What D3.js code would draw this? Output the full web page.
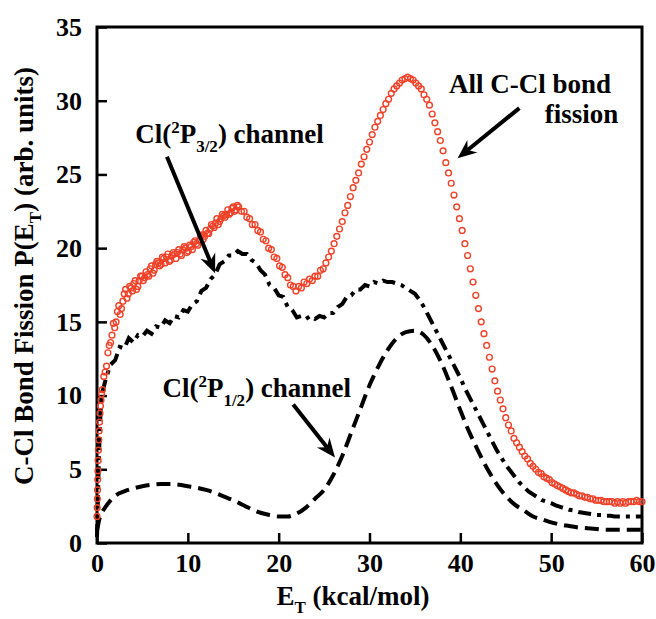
<!DOCTYPE html>
<html>
<head>
<meta charset="utf-8">
<script src="https://cdn.jsdelivr.net/npm/d3@7"></script>
<style>
  html, body { margin: 0; padding: 0; background: #fff; }
  svg text { font-family: "Liberation Serif", Tinos, "Times New Roman", Times, serif !important; font-weight: 700; }
</style>
</head>
<body>
<div id="graph"></div>
<script>
// x ticks and y ticks
const xTicks = [0, 10, 20, 30, 40, 50, 60];
const yTicks = [0, 5, 10, 15, 20, 25, 30, 35];

// All C-Cl bond fission (red open circles): steep start, then 0.3 kcal/mol grid from 0.6
const allLowE = [0, 0.02, 0.04, 0.06, 0.08, 0.1, 0.13, 0.16, 0.2, 0.24, 0.28, 0.33, 0.38, 0.44, 0.5];
const allLowV = [1.8, 2.4, 3.0, 3.6, 4.3, 4.9, 5.6, 6.3, 7.0, 7.6, 8.2, 8.8, 9.3, 9.7, 10.1];
const allStart = 0.6, allStep = 0.3;
const allV = [
  10.4, 11.6, 12.9, 13.6, 14.9, 15.0, 16.1, 15.9, 16.9, 16.6,
  17.4, 17.1, 17.8, 17.4, 18.1, 17.8, 18.4, 18.1, 18.8, 18.5,
  19.1, 18.8, 19.4, 19.0, 19.6, 19.2, 19.7, 19.3, 19.9, 19.5,
  20.1, 19.7, 20.2, 19.9, 20.5, 20.2, 20.8, 20.6, 21.2, 21.0,
  21.6, 21.4, 22.0, 21.8, 22.3, 22.1, 22.6, 22.4, 22.8, 22.6,
  22.8, 22.5, 22.5, 22.1, 22.0, 21.6, 21.6, 21.2, 21.1, 20.6,
  20.5, 20.0, 19.9, 19.4, 19.3, 18.8, 18.7, 18.2, 18.0, 17.5,
  17.4, 17.1, 17.4, 17.3, 17.7, 17.6, 17.9, 17.8, 18.1, 18.1,
  18.5, 18.6, 19.0, 19.4, 19.8, 20.3, 20.8, 21.3, 21.8, 22.4,
  22.9, 23.5, 24.1, 24.6, 25.1, 25.7, 26.2, 26.7, 27.2, 27.7,
  28.2, 28.6, 29.0, 29.4, 29.8, 30.1, 30.5, 30.8, 31.0, 31.2,
  31.4, 31.5, 31.6, 31.5, 31.4, 31.2, 31.0, 30.8, 30.4, 30.1,
  29.7, 29.1, 28.5, 27.9, 27.3, 26.6, 25.8, 25.1, 24.4, 23.6,
  22.8, 22.0, 21.2, 20.3, 19.5, 18.6, 17.7, 16.8, 15.9, 15.0,
  14.2, 13.4, 12.6, 11.8, 11.0, 10.3, 9.7, 9.1, 8.5, 8.0,
  7.6, 7.1, 6.8, 6.5, 6.2, 5.9, 5.7, 5.4, 5.2, 5.0,
  4.8, 4.7, 4.5, 4.4, 4.3, 4.1, 4.0, 3.9, 3.8, 3.7,
  3.6, 3.5, 3.4, 3.4, 3.3, 3.2, 3.2, 3.1, 3.1, 3.0,
  3.0, 2.9, 2.9, 2.9, 2.8, 2.8, 2.8, 2.8, 2.7, 2.8,
  2.7, 2.8, 2.7, 2.8, 2.8, 2.8, 2.9, 2.8, 2.8
];
// extra noisy red points in the dense low-energy band (E, value)
const allBandE = [0.75, 1.05, 1.35, 1.65, 1.95, 2.25, 2.55, 2.85, 3.15, 3.45, 3.75, 4.05, 4.35, 4.65, 4.95, 5.25, 5.55, 5.85, 6.15, 6.45, 6.75, 7.05, 7.35, 7.65, 7.95, 8.25, 8.55, 8.85, 9.15, 9.45, 9.75, 10.05, 10.35, 10.65, 10.95, 11.25, 11.55, 11.85, 12.15, 12.45, 12.75, 13.05, 13.35, 13.65, 13.95, 14.25, 14.55, 14.85, 15.15, 15.45];
const allBandV = [11.3, 12.0, 13.4, 14.1, 14.6, 15.7, 15.5, 16.4, 17.2, 16.9, 17.3, 17.6, 17.2, 17.8, 18.1, 18.0, 18.2, 18.6, 18.3, 18.9, 19.0, 18.9, 19.3, 19.4, 19.1, 19.5, 19.6, 19.7, 19.6, 19.9, 20.0, 19.8, 20.1, 20.4, 20.3, 20.5, 20.9, 20.8, 21.0, 21.3, 21.5, 21.7, 21.6, 22.0, 22.2, 22.3, 22.3, 22.7, 22.5, 22.9];

// Cl(2P3/2) channel (dash-dot): steep start, then 0.5 kcal/mol grid from 0.5
const p32LowE = [0, 0.1, 0.2, 0.3, 0.4];
const p32LowV = [0.4, 3.0, 5.5, 7.5, 9.0];
const p32Start = 0.5, p32Step = 0.5;
const p32V = [
  10.0, 11.2, 12.1, 12.4, 13.3, 13.2, 13.9, 13.6, 14.1, 14.0,
  14.4, 14.2, 14.7, 14.6, 15.1, 14.9, 15.4, 15.3, 15.8, 15.7,
  16.2, 16.4, 17.1, 17.3, 17.9, 18.2, 18.9, 19.1, 19.5, 19.5,
  19.8, 19.6, 19.6, 19.2, 19.0, 18.5, 18.2, 17.5, 17.3, 16.8,
  16.7, 16.0, 15.8, 15.3, 15.4, 15.2, 15.4, 15.2, 15.4, 15.3,
  15.6, 15.6, 16.0, 16.2, 16.7, 16.8, 17.2, 17.2, 17.5, 17.4,
  17.7, 17.6, 17.8, 17.7, 17.7, 17.6, 17.5, 17.3, 17.1, 16.9,
  16.5, 16.0, 15.4, 14.8, 14.2, 13.6, 13.0, 12.4, 11.8, 11.2,
  10.5, 9.9, 9.3, 8.7, 8.1, 7.5, 6.9, 6.3, 5.8, 5.3,
  4.9, 4.5, 4.1, 3.8, 3.5, 3.3, 3.1, 2.9, 2.8, 2.7,
  2.55, 2.45, 2.35, 2.25, 2.2, 2.1, 2.05, 2.0, 1.95, 1.9,
  1.9, 1.85, 1.85, 1.8, 1.8, 1.8, 1.8, 1.8, 1.8, 1.8
];

// Cl(2P1/2) channel (dashed): steep start, then 1 kcal/mol grid from 1
const p12LowE = [0, 0.25, 0.5];
const p12LowV = [0.8, 1.6, 2.0];
const p12Start = 1, p12Step = 1;
const p12V = [
  2.5, 3.2, 3.5, 3.7, 3.85, 3.95, 4.0, 4.0, 3.95, 3.85,
  3.75, 3.6, 3.4, 3.15, 2.9, 2.6, 2.3, 2.05, 1.9, 1.8,
  1.8, 2.0, 2.4, 3.0, 3.6, 4.6, 5.9, 7.5, 9.1, 10.7,
  12.0, 13.1, 13.9, 14.3, 14.4, 14.1, 13.3, 12.1, 10.6, 9.0,
  7.5, 6.2, 5.0, 4.0, 3.2, 2.6, 2.2, 1.8, 1.6, 1.4,
  1.25, 1.15, 1.05, 1.0, 0.95, 0.9, 0.9, 0.9, 0.9, 0.9
];

// build [E, value] points from a low-energy part and a regular grid
function series(lowE, lowV, start, step, vals) {
  const pts = lowE.map((e, i) => [e, lowV[i]]);
  vals.forEach((v, i) => pts.push([+(start + i * step).toFixed(2), v]));
  return pts;
}
const allData = series(allLowE, allLowV, allStart, allStep, allV)
    .concat(allBandE.map((e, i) => [e, allBandV[i]]));
const p32Data = series(p32LowE, p32LowV, p32Start, p32Step, p32V);
const p12Data = series(p12LowE, p12LowV, p12Start, p12Step, p12V);

const FONT = "'Liberation Serif', Tinos, 'Times New Roman', Times, serif";

// Declare the chart dimensions and margins.
const width = 656;
const height = 619;
const marginTop = 27;
const marginRight = 14;
const marginBottom = 76;
const marginLeft = 97;

const x = d3.scaleLinear().domain([0, 60]).range([marginLeft, width - marginRight]);
const y = d3.scaleLinear().domain([0, 35]).range([height - marginBottom, marginTop]);

const svg = d3.select("#graph").append("svg")
    .attr("width", width)
    .attr("height", height)
    .attr("viewBox", [0, 0, width, height])
    .attr("font-family", FONT)
    .attr("font-weight", "bold");

// axes, ticks pointing inwards
svg.append("g")
    .attr("transform", `translate(0,${height - marginBottom})`)
    .call(d3.axisBottom(x).tickValues(xTicks).tickSize(-10).tickPadding(11))
    .attr("font-family", FONT)
    .call(g => g.select(".domain").remove())
    .call(g => g.selectAll(".tick line").attr("stroke-width", 2.5))
    .call(g => g.selectAll(".tick text").attr("font-size", 26));

svg.append("g")
    .attr("transform", `translate(${marginLeft},0)`)
    .call(d3.axisLeft(y).tickValues(yTicks).tickSize(-10).tickPadding(15))
    .attr("font-family", FONT)
    .call(g => g.select(".domain").remove())
    .call(g => g.selectAll(".tick line").attr("stroke-width", 2.5))
    .call(g => g.selectAll(".tick text").attr("font-size", 26));

// frame
svg.append("rect")
    .attr("x", marginLeft)
    .attr("y", marginTop)
    .attr("width", width - marginLeft - marginRight)
    .attr("height", height - marginTop - marginBottom)
    .attr("fill", "none")
    .attr("stroke", "#000")
    .attr("stroke-width", 3);

const line = d3.line().x(d => x(d[0])).y(d => y(d[1]));

svg.append("path")
    .datum(p12Data)
    .attr("fill", "none")
    .attr("stroke", "#000")
    .attr("stroke-width", 4)
    .attr("stroke-dasharray", "14,7")
    .attr("d", line.curve(d3.curveMonotoneX));

svg.append("path")
    .datum(p32Data)
    .attr("fill", "none")
    .attr("stroke", "#000")
    .attr("stroke-width", 4)
    .attr("stroke-dasharray", "13,6,4,6")
    .attr("d", line.curve(d3.curveLinear));

svg.append("g")
    .attr("fill", "none")
    .attr("stroke", "#ee4128")
    .attr("stroke-width", 1.4)
    .selectAll("circle")
    .data(allData)
    .join("circle")
    .attr("cx", d => x(d[0]))
    .attr("cy", d => y(d[1]))
    .attr("r", 2.9);

// axis titles
const xTitle = svg.append("text")
    .attr("x", 353)
    .attr("y", 605)
    .attr("text-anchor", "middle")
    .attr("font-size", 27);
xTitle.append("tspan").text("E");
xTitle.append("tspan").attr("font-size", 17).attr("dy", 8).text("T");
xTitle.append("tspan").attr("dy", -8).text(" (kcal/mol)");

const yTitle = svg.append("text")
    .attr("transform", `translate(33,276) rotate(-90)`)
    .attr("text-anchor", "middle")
    .attr("font-size", 27);
yTitle.append("tspan").text("C-Cl Bond Fission P(E");
yTitle.append("tspan").attr("font-size", 17).attr("dy", 8).text("T");
yTitle.append("tspan").attr("dy", -8).text(") (arb. units)");

// annotations (positions in data units)
function channelLabel(e, v, sub) {
  const t = svg.append("text").attr("x", x(e)).attr("y", y(v)).attr("font-size", 27);
  t.append("tspan").text("Cl(");
  t.append("tspan").attr("font-size", 17).attr("dy", -10).text("2");
  t.append("tspan").attr("dy", 10).text("P");
  t.append("tspan").attr("font-size", 17).attr("dy", 9).text(sub);
  t.append("tspan").attr("dy", -9).text(") channel");
}
channelLabel(4.2, 27.1, "3/2");
channelLabel(7.2, 9.9, "1/2");

svg.append("text").attr("x", x(38.75)).attr("y", y(30.5)).attr("font-size", 27).text("All C-Cl bond");
svg.append("text").attr("x", x(57.4)).attr("y", y(28.5)).attr("font-size", 27)
    .attr("text-anchor", "end").text("fission");

// arrows
const arrows = [
  [[7.7, 26.2], [13.0, 18.3]],
  [[46.5, 29.5], [39.7, 26.1]],
  [[21.6, 9.4], [26.2, 5.8]]
];
arrows.forEach(([a, b]) => {
  const x1 = x(a[0]), y1 = y(a[1]), x2 = x(b[0]), y2 = y(b[1]);
  const ang = Math.atan2(y2 - y1, x2 - x1);
  const L = 19, W = 8, notch = 13;
  const bx = x2 - notch * Math.cos(ang), by = y2 - notch * Math.sin(ang);
  svg.append("line")
      .attr("x1", x1).attr("y1", y1).attr("x2", bx).attr("y2", by)
      .attr("stroke", "#000").attr("stroke-width", 4);
  const px = -Math.sin(ang), py = Math.cos(ang);
  const hx = x2 - L * Math.cos(ang), hy = y2 - L * Math.sin(ang);
  svg.append("path")
      .attr("d", `M${x2},${y2}L${hx + W * px},${hy + W * py}L${bx},${by}L${hx - W * px},${hy - W * py}Z`)
      .attr("fill", "#000");
});
</script>
</body>
</html>
